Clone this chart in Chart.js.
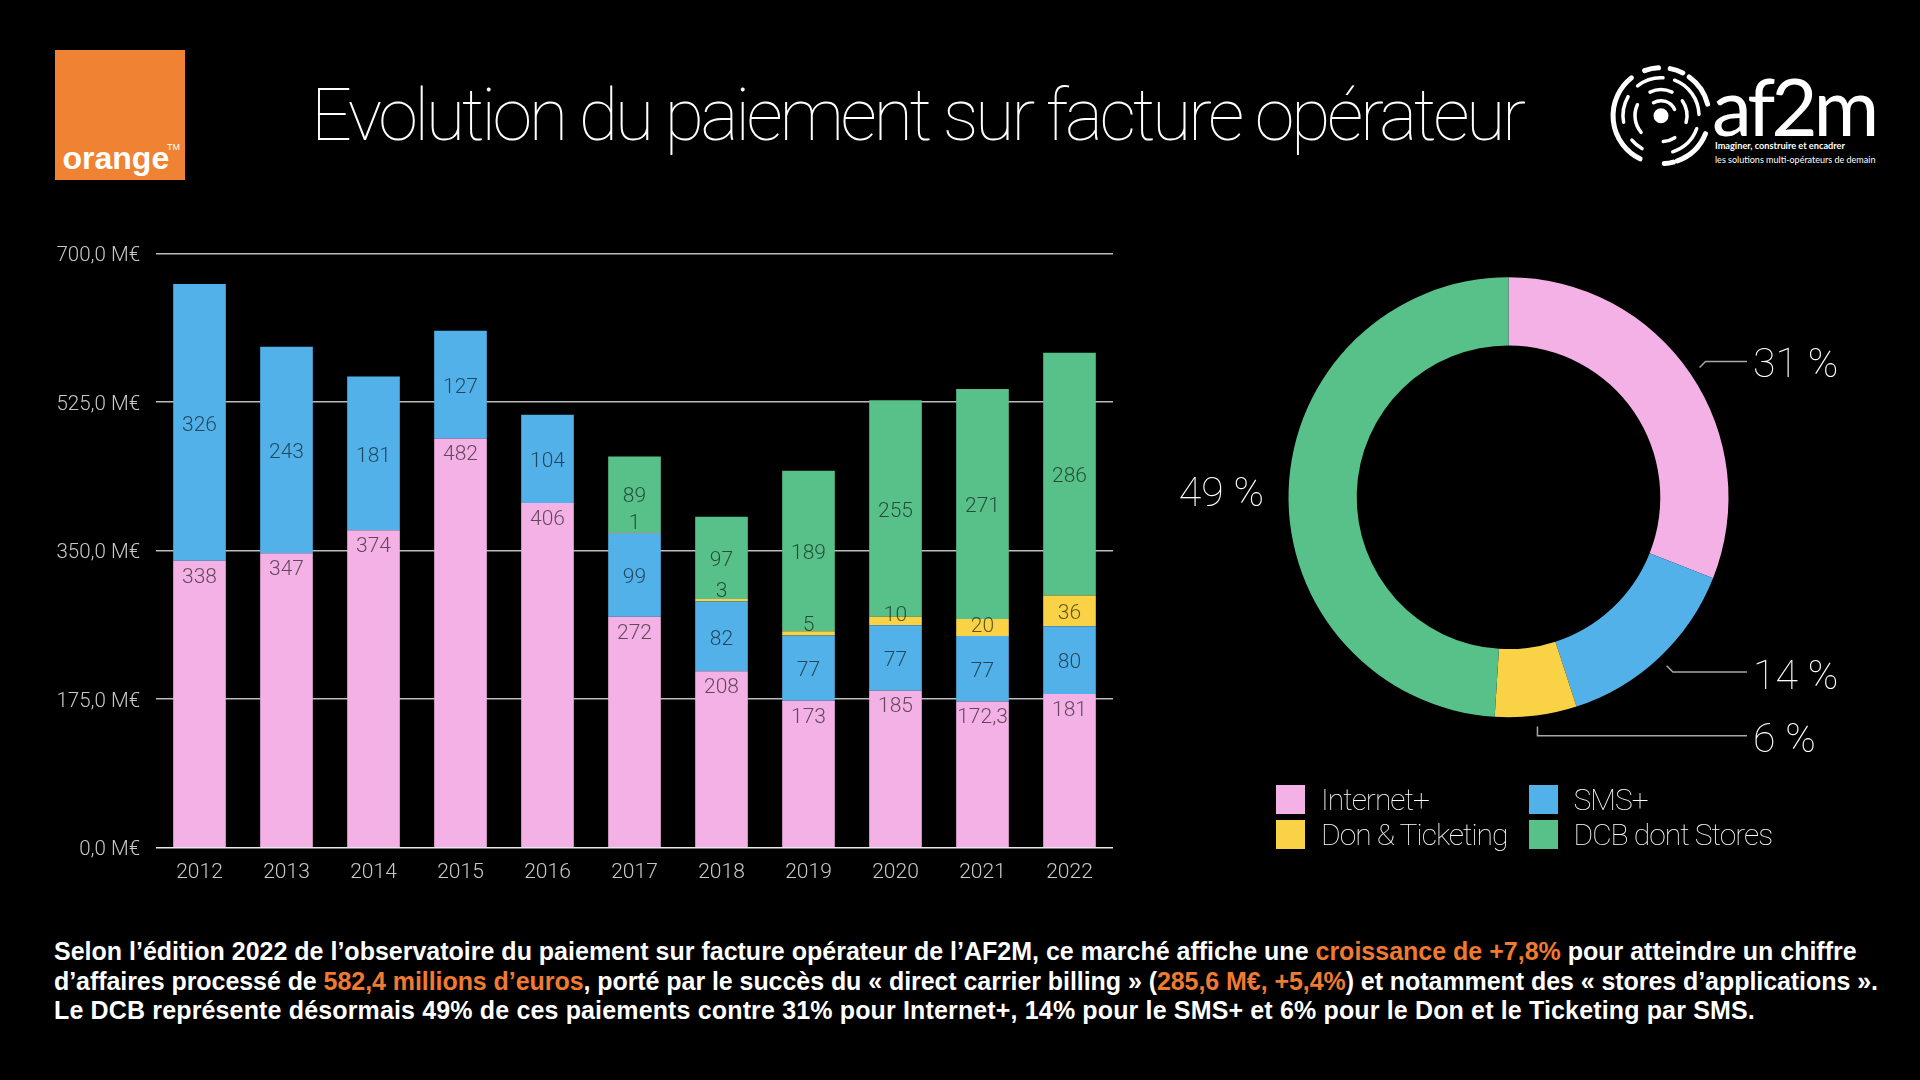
<!DOCTYPE html>
<html lang="fr">
<head>
<meta charset="UTF-8" />
<title>Evolution du paiement sur facture opérateur</title>
<script src="https://cdn.jsdelivr.net/npm/chart.js"></script>
<style>
  html, body { margin: 0; background: #000; }
  body { width: 1920px; height: 1080px; position: relative; overflow: hidden; color: #fff; font-family: Roboto, sans-serif; }
  canvas { position: absolute; display: block; }
  #barChart { left: 0; top: 220px; }
  #donutChart { left: 1160px; top: 260px; }

  #orangeLogo { position: absolute; left: 55px; top: 50px; width: 130px; height: 130px; background: #ef8333; }
  #orangeLogo b { position: absolute; left: 7.5px; bottom: 6px; font: bold 32px "Liberation Sans", sans-serif; line-height: 1; }
  #orangeLogo i { position: absolute; left: 112px; top: 92px; font: normal 9px "Liberation Sans", sans-serif; }

  #title { position: absolute; left: 311px; top: 70px; font: 100 72px Roboto, sans-serif; letter-spacing: -3.4px; white-space: nowrap; line-height: 92px; }

  #af2mRings { position: absolute; left: 1600px; top: 50px; }
  #af2mName { position: absolute; left: 1712px; top: 55px; font: 400 80px Lato, sans-serif; letter-spacing: -4px; line-height: 100px; white-space: nowrap; }
  .af2mSub { position: absolute; left: 1715px; font: 9px Lato, sans-serif; white-space: nowrap; line-height: 14px; }

  #legend { position: absolute; left: 1276px; top: 785px; display: grid; grid-template-columns: 252.5px 252.5px; grid-auto-rows: 34.5px; }
  .legendItem { display: flex; align-items: flex-start; min-width: 0; font: 100 30px Roboto, sans-serif; letter-spacing: -1px; line-height: 29px; white-space: nowrap; color: #fff; }
  .legendItem span { display: inline-block; flex: none; width: 29px; height: 29px; margin-right: 16px; }

  #summary { position: absolute; left: 54px; top: 937px; font: bold 25px "Liberation Sans", sans-serif; line-height: 29.5px; white-space: nowrap; }
  #summary em { font-style: normal; color: #f07a30; }
</style>
</head>
<body>
  <div id="orangeLogo"><b>orange</b><i>TM</i></div>
  <div id="title">Evolution du paiement sur facture opérateur</div>

  <svg id="af2mRings" width="115" height="130"></svg>
  <div id="af2mName">af2m</div>
  <div class="af2mSub" style="top:139px;font-weight:700;font-size:9.2px">Imaginer, construire et encadrer</div>
  <div class="af2mSub" style="top:153px">les solutions multi-opérateurs de demain</div>

  <canvas id="barChart" width="1130" height="680"></canvas>
  <canvas id="donutChart" width="740" height="530"></canvas>
  <div id="legend"></div>

  <div id="summary">
    Selon l’édition 2022 de l’observatoire du paiement sur facture opérateur de l’AF2M, ce marché affiche une <em>croissance de +7,8%</em> pour atteindre un chiffre<br>
    <span style="letter-spacing:-0.06px">d’affaires processé de <em>582,4 millions d’euros</em>, porté par le succès du « direct carrier billing » (<em>285,6 M€, +5,4%</em>) et notamment des « stores d’applications ».</span><br>
    <span style="letter-spacing:0.15px">Le DCB représente désormais 49% de ces paiements contre 31% pour Internet+, 14% pour le SMS+ et 6% pour le Don et le Ticketing par SMS.</span>
  </div>

<script>
const years = ["2012", "2013", "2014", "2015", "2016", "2017", "2018", "2019", "2020", "2021", "2022"];
const internetPlus = [338, 347, 374, 482, 406, 272, 208, 173, 185, 172.3, 181];
const smsPlus = [326, 243, 181, 127, 104, 99, 82, 77, 77, 77, 80];
const donTicketing = [null, null, null, null, null, 1, 3, 5, 10, 20, 36];
const dcbStores = [null, null, null, null, null, 89, 97, 189, 255, 271, 286];

const yTicks = [0, 175, 350, 525, 700];

const seriesNames = ["Internet+", "SMS+", "Don & Ticketing", "DCB dont Stores"];
const seriesColors = ["#f3b1e5", "#52b1e8", "#f9d246", "#58c18a"];
const shares2022 = [31, 14, 6, 49];

const frNumber = v => String(v).replace(".", ",");
const LABEL_FONT = "300 21px Roboto";
const LABEL_COLOR = "rgba(0, 0, 0, 0.6)";

// values written on the bars: pink sits under the top edge, thin yellow ones get pushed up
const barLabels = {
  id: "barLabels",
  afterDatasetsDraw(chart) {
    const c = chart.ctx;
    c.save();
    c.font = LABEL_FONT;
    c.fillStyle = LABEL_COLOR;
    c.textAlign = "center";
    c.textBaseline = "middle";
    chart.data.datasets.forEach((ds, d) => {
      chart.getDatasetMeta(d).data.forEach((bar, i) => {
        if (ds.data[i] == null) return;
        const h = bar.base - bar.y;
        let y = bar.y + h / 2 + 3;
        if (d === 0) y = bar.y + 16.5;
        if (d === 2) y -= Math.max(0, 12.5 - h * 0.5);
        c.fillText(frNumber(ds.data[i]), bar.x, y);
      });
    });
    c.restore();
  }
};

new Chart(document.getElementById("barChart"), {
  type: "bar",
  data: {
    labels: years,
    datasets: [internetPlus, smsPlus, donTicketing, dcbStores].map((data, i) => ({
      label: seriesNames[i],
      data: data,
      backgroundColor: seriesColors[i],
      borderWidth: 0
    }))
  },
  plugins: [barLabels],
  options: {
    responsive: false,
    animation: false,
    devicePixelRatio: 1,
    layout: { padding: { top: 33.5, right: 17, left: 0, bottom: 0 } },
    datasets: { bar: { categoryPercentage: 1, barPercentage: 0.605 } },
    plugins: { legend: { display: false }, tooltip: { enabled: false } },
    scales: {
      x: {
        stacked: true,
        grid: { display: false },
        border: { display: false },
        afterFit(scale) { scale.height = 52.3; },
        ticks: { color: "#c8c8c8", padding: 4, font: { family: "Roboto", size: 21, weight: 300 }, maxRotation: 0 }
      },
      y: {
        stacked: true,
        min: 0,
        max: 700,
        afterFit(scale) { scale.width = 156; },
        afterBuildTicks(scale) { scale.ticks = yTicks.map(v => ({ value: v })); },
        border: { display: false },
        grid: {
          drawTicks: false,
          lineWidth: 1.5,
          color: ctx => (ctx.tick.value === 0 ? "#e8e8e8" : "#bcbcbc")
        },
        ticks: {
          color: "#c8c8c8",
          padding: 16,
          labelOffset: 2.5,
          font: { family: "Roboto", size: 20.5, weight: 300 },
          callback: v => v.toFixed(1).replace(".", ",") + " M€"
        }
      }
    }
  }
});

// percent labels around the ring, with the elbow leaders for the three small-side slices
const donutLabels = {
  id: "donutLabels",
  afterDatasetsDraw(chart) {
    const c = chart.ctx;
    const arcs = chart.getDatasetMeta(0).data;
    const textX = 593;
    const lineEnd = 587;
    const elbowY = [101.5, 412, 475.8];
    const textNudge = [5, 7, 6];
    c.save();
    c.font = "100 41px Roboto";
    c.fillStyle = "#fff";
    c.textBaseline = "middle";
    c.strokeStyle = "#a8a8a8";
    c.lineWidth = 1.5;
    arcs.forEach((arc, i) => {
      const mid = (arc.startAngle + arc.endAngle) / 2;
      const r = arc.outerRadius + 11;
      const sx = arc.x + Math.cos(mid) * r;
      const sy = arc.y + Math.sin(mid) * r;
      const text = shares2022[i] + " %";
      if (i === 3) {
        c.textAlign = "right";
        c.fillText(text, arc.x - arc.outerRadius - 24.5, sy + 6);
        return;
      }
      const ey = elbowY[i];
      c.beginPath();
      c.moveTo(sx, sy);
      c.lineTo(i === 2 ? sx : sx + Math.sign(ey - sy) * (ey - sy), ey);
      c.lineTo(lineEnd, ey);
      c.stroke();
      c.textAlign = "left";
      c.fillText(text, textX, ey + textNudge[i]);
    });
    c.restore();
  }
};

new Chart(document.getElementById("donutChart"), {
  type: "doughnut",
  data: {
    labels: seriesNames,
    datasets: [{ data: shares2022, backgroundColor: seriesColors, borderWidth: 0 }]
  },
  plugins: [donutLabels],
  options: {
    responsive: false,
    animation: false,
    devicePixelRatio: 1,
    cutout: "69%",
    layout: { padding: { top: 17.3, bottom: 72.7, left: 128.5, right: 171.5 } },
    plugins: { legend: { display: false }, tooltip: { enabled: false } }
  }
});

const legend = document.getElementById("legend");
seriesNames.forEach((name, i) => {
  const item = document.createElement("div");
  item.className = "legendItem";
  const box = document.createElement("span");
  box.style.background = seriesColors[i];
  item.appendChild(box);
  item.appendChild(document.createTextNode(name));
  legend.appendChild(item);
});

// af2m logo rings: [radius, from deg, to deg] clockwise from the top
const ringArcs = [
  [48, -20, -3], [48, 11, 27], [48, 36, 76], [48, 112, 160], [48, 165, 176], [48, -154, -38],
  [38, -38, 3], [38, 21, 88], [38, 110, 162], [38, -150, -130], [38, -100, -60],
  [26, -25, 25], [26, 55, 105], [26, 148, 175], [26, -130, -65],
  [15, -30, 65]
];
const rings = document.getElementById("af2mRings");
const ringCx = 61, ringCy = 65.7;
const polar = (r, deg) => {
  const a = deg * Math.PI / 180;
  return (ringCx + r * Math.sin(a)).toFixed(1) + " " + (ringCy - r * Math.cos(a)).toFixed(1);
};
let svg = `<circle cx="${ringCx}" cy="${ringCy}" r="7.5" fill="#fff"/>`;
ringArcs.forEach(([r, a, b]) => {
  const w = r === 48 ? 5 : 3.5;
  svg += `<path d="M${polar(r, a)} A${r} ${r} 0 ${b - a > 180 ? 1 : 0} 1 ${polar(r, b)}" fill="none" stroke="#fff" stroke-width="${w}" stroke-linecap="round"/>`;
});
rings.innerHTML = svg;
</script>
</body>
</html>
